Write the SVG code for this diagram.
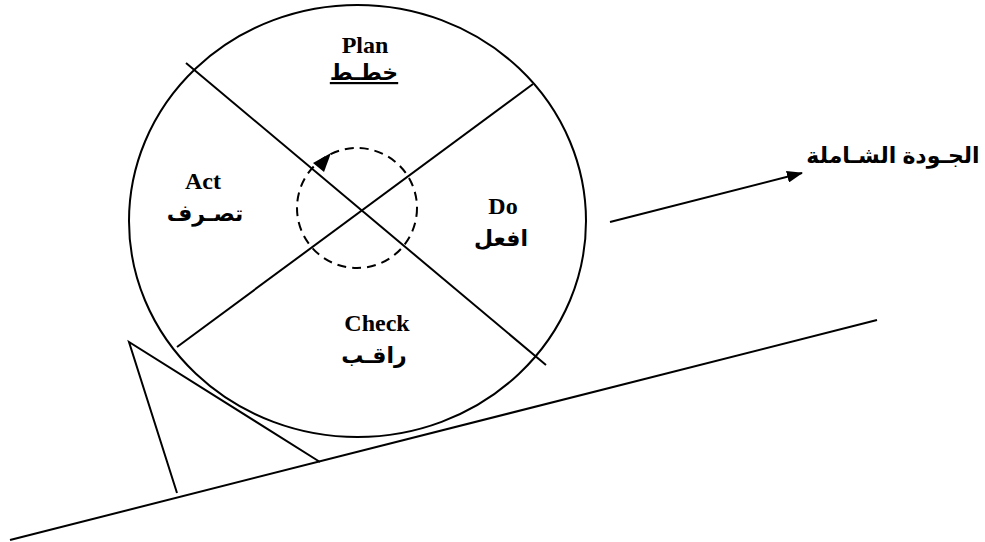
<svg xmlns="http://www.w3.org/2000/svg" width="985" height="542" viewBox="0 0 985 542">
<style>
.ln{stroke:#000;stroke-width:2;fill:none}
.en{font-family:"Liberation Serif","Times New Roman",serif;font-weight:bold;font-size:24px;text-anchor:middle;fill:#000}
.ar{font-family:"Liberation Sans","DejaVu Sans",Arial,sans-serif;font-weight:bold;font-size:22px;text-anchor:middle;fill:#000}
</style>
<defs>
<marker id="ah" markerWidth="16" markerHeight="12" refX="15" refY="6" orient="auto" markerUnits="userSpaceOnUse">
<path d="M0,0 L16,6 L0,12 z" fill="#000"/>
</marker>
</defs>
<rect width="985" height="542" fill="#fff"/>
<g id="wheel">
<ellipse class="ln" cx="357.5" cy="221" rx="228.5" ry="216"/>
</g>
<g id="connectors">
<line class="ln" x1="186" y1="63" x2="546" y2="365"/>
<line class="ln" x1="177" y1="347" x2="533" y2="84"/>
<circle cx="357" cy="208" r="60" fill="none" stroke="#000" stroke-width="2" stroke-dasharray="9,6"/>
<polygon points="331,153 313,163 324,172" fill="#000"/>
<line x1="610" y1="222" x2="802" y2="173" stroke="#000" stroke-width="2" marker-end="url(#ah)"/>
<line class="ln" x1="10" y1="540" x2="877" y2="320"/>
<polyline class="ln" points="177,493 129,342 320,462"/>
</g>
<g id="plan">
<text class="en" x="365" y="53">Plan</text>
<text class="ar" x="364" y="80" text-decoration="underline">خطـط</text>
</g>
<g id="act">
<text class="en" x="203" y="189">Act</text>
<text class="ar" x="205" y="221">تصـرف</text>
</g>
<g id="do">
<text class="en" x="503" y="214">Do</text>
<text class="ar" x="501" y="246">افعل</text>
</g>
<g id="check">
<text class="en" x="377" y="331">Check</text>
<text class="ar" x="374" y="363">راقـب</text>
</g>
<g id="tqm">
<text class="ar" x="893" y="163">الجـودة الشـاملة</text>
</g>
</svg>
